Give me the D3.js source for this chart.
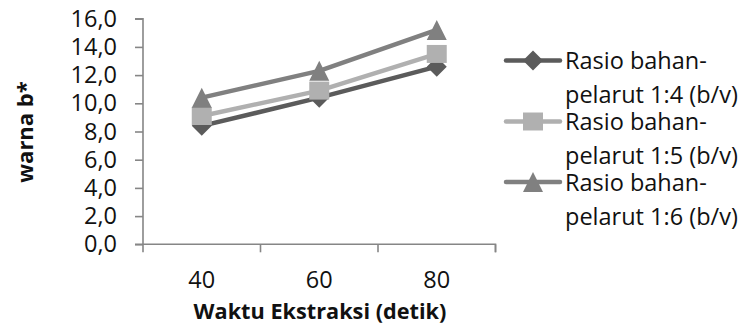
<!DOCTYPE html>
<html>
<head>
<meta charset="utf-8">
<script src="https://cdn.jsdelivr.net/npm/d3@7"></script>
<style>
  html, body { margin: 0; padding: 0; background: #fff; }
  svg { display: block; font-family: "Open Sans", "Noto Sans", sans-serif; }
</style>
</head>
<body>
<svg id="chart" width="744" height="331"></svg>
<script>
// ---- data ----
const categories = ["40", "60", "80"];
const seriesNames = [
  ["Rasio bahan-", "pelarut 1:4 (b/v)"],
  ["Rasio bahan-", "pelarut 1:5 (b/v)"],
  ["Rasio bahan-", "pelarut 1:6 (b/v)"]
];
const rasio14 = [8.4, 10.4, 12.6];
const rasio15 = [9.1, 10.9, 13.5];
const rasio16 = [10.4, 12.3, 15.2];
const yTicks = [0, 2, 4, 6, 8, 10, 12, 14, 16];
const xTitle = "Waktu Ekstraksi (detik)";
const yTitle = "warna b*";

// ---- styles ----
const colors = ["#5b5b5b", "#b0b0b0", "#808080"];
const markerTypes = ["diamond", "square", "triangle"];
const axisColor = "#868686";

const svg = d3.select("#chart");
const pLeft = 143, pRight = 495.5, pTop = 18.7, pBottom = 244.3;

const x = d3.scaleBand().domain(categories).range([pLeft, pRight]).padding(0);
const y = d3.scaleLinear().domain([0, 16]).range([pBottom, pTop]);
const fmt = v => d3.format(".1f")(v).replace(".", ",");

// y axis
const yAxis = svg.append("g").attr("transform", `translate(${pLeft},0)`)
  .call(d3.axisLeft(y).tickValues(yTicks).tickFormat(fmt).tickSize(8).tickPadding(18));
yAxis.select(".domain").attr("d", `M-8,${y(16)}H0V${pBottom + 8}`);

// x axis labels
const xAxis = svg.append("g").attr("transform", `translate(0,${pBottom})`)
  .call(d3.axisBottom(x).tickSize(0).tickPadding(27));
xAxis.select(".domain").attr("d", `M${pLeft - 8},0H${pRight}V8`);
// boundary ticks
const bounds = categories.map(c => x(c)).concat([pRight]);
xAxis.selectAll(".btick").data(bounds.slice(1)).enter().append("line")
  .attr("class", "btick").attr("x1", d => d).attr("x2", d => d)
  .attr("y1", 0).attr("y2", 8);

svg.selectAll(".domain, .tick line, .btick")
  .attr("stroke", axisColor).attr("stroke-width", 1.6).attr("fill", "none");
svg.selectAll(".tick text").attr("fill", "#111").attr("font-size", 23.5)
  .attr("font-family", "'Open Sans', sans-serif");

// axis titles
svg.append("text").attr("x", 320).attr("y", 319).attr("text-anchor", "middle")
  .attr("font-weight", "bold").attr("font-size", 21.7).attr("fill", "#111").text(xTitle);
svg.append("text").attr("transform", "translate(33,132) rotate(-90)").attr("text-anchor", "middle")
  .attr("font-weight", "bold").attr("font-size", 22).attr("fill", "#111").text(yTitle);

// markers
function markerPath(type) {
  if (type === "diamond") return "M0,-10L10,0L0,10L-10,0Z";
  if (type === "square") return "M-10,-9H10V9H-10Z";
  return "M0,-10L10,10H-10Z";
}

const allSeries = [rasio14, rasio15, rasio16];
const line = d3.line().x((d, i) => x(categories[i]) + x.bandwidth() / 2).y(d => y(d));

allSeries.forEach((vals, s) => {
  const g = svg.append("g");
  g.append("path").attr("d", line(vals)).attr("fill", "none")
    .attr("stroke", colors[s]).attr("stroke-width", 4.5)
    .attr("stroke-linejoin", "round").attr("stroke-linecap", "round");
  g.selectAll("path.m").data(vals).enter().append("path").attr("class", "m")
    .attr("d", markerPath(markerTypes[s]))
    .attr("transform", (d, i) => `translate(${x(categories[i]) + x.bandwidth() / 2},${y(d)})`)
    .attr("fill", colors[s]);
});

// legend
const legendRows = [60.5, 121.5, 182];
seriesNames.forEach((lines, s) => {
  const ly = legendRows[s];
  const g = svg.append("g");
  g.append("line").attr("x1", 506).attr("x2", 560).attr("y1", ly).attr("y2", ly)
    .attr("stroke", colors[s]).attr("stroke-width", 4.5).attr("stroke-linecap", "round");
  g.append("path").attr("d", markerPath(markerTypes[s]))
    .attr("transform", `translate(533,${ly})`).attr("fill", colors[s]);
  lines.forEach((t, k) => {
    g.append("text").attr("x", 565).attr("y", ly + 8.5 + k * 34)
      .attr("font-size", 23.5).attr("fill", "#111").text(t);
  });
});
</script>
</body>
</html>
